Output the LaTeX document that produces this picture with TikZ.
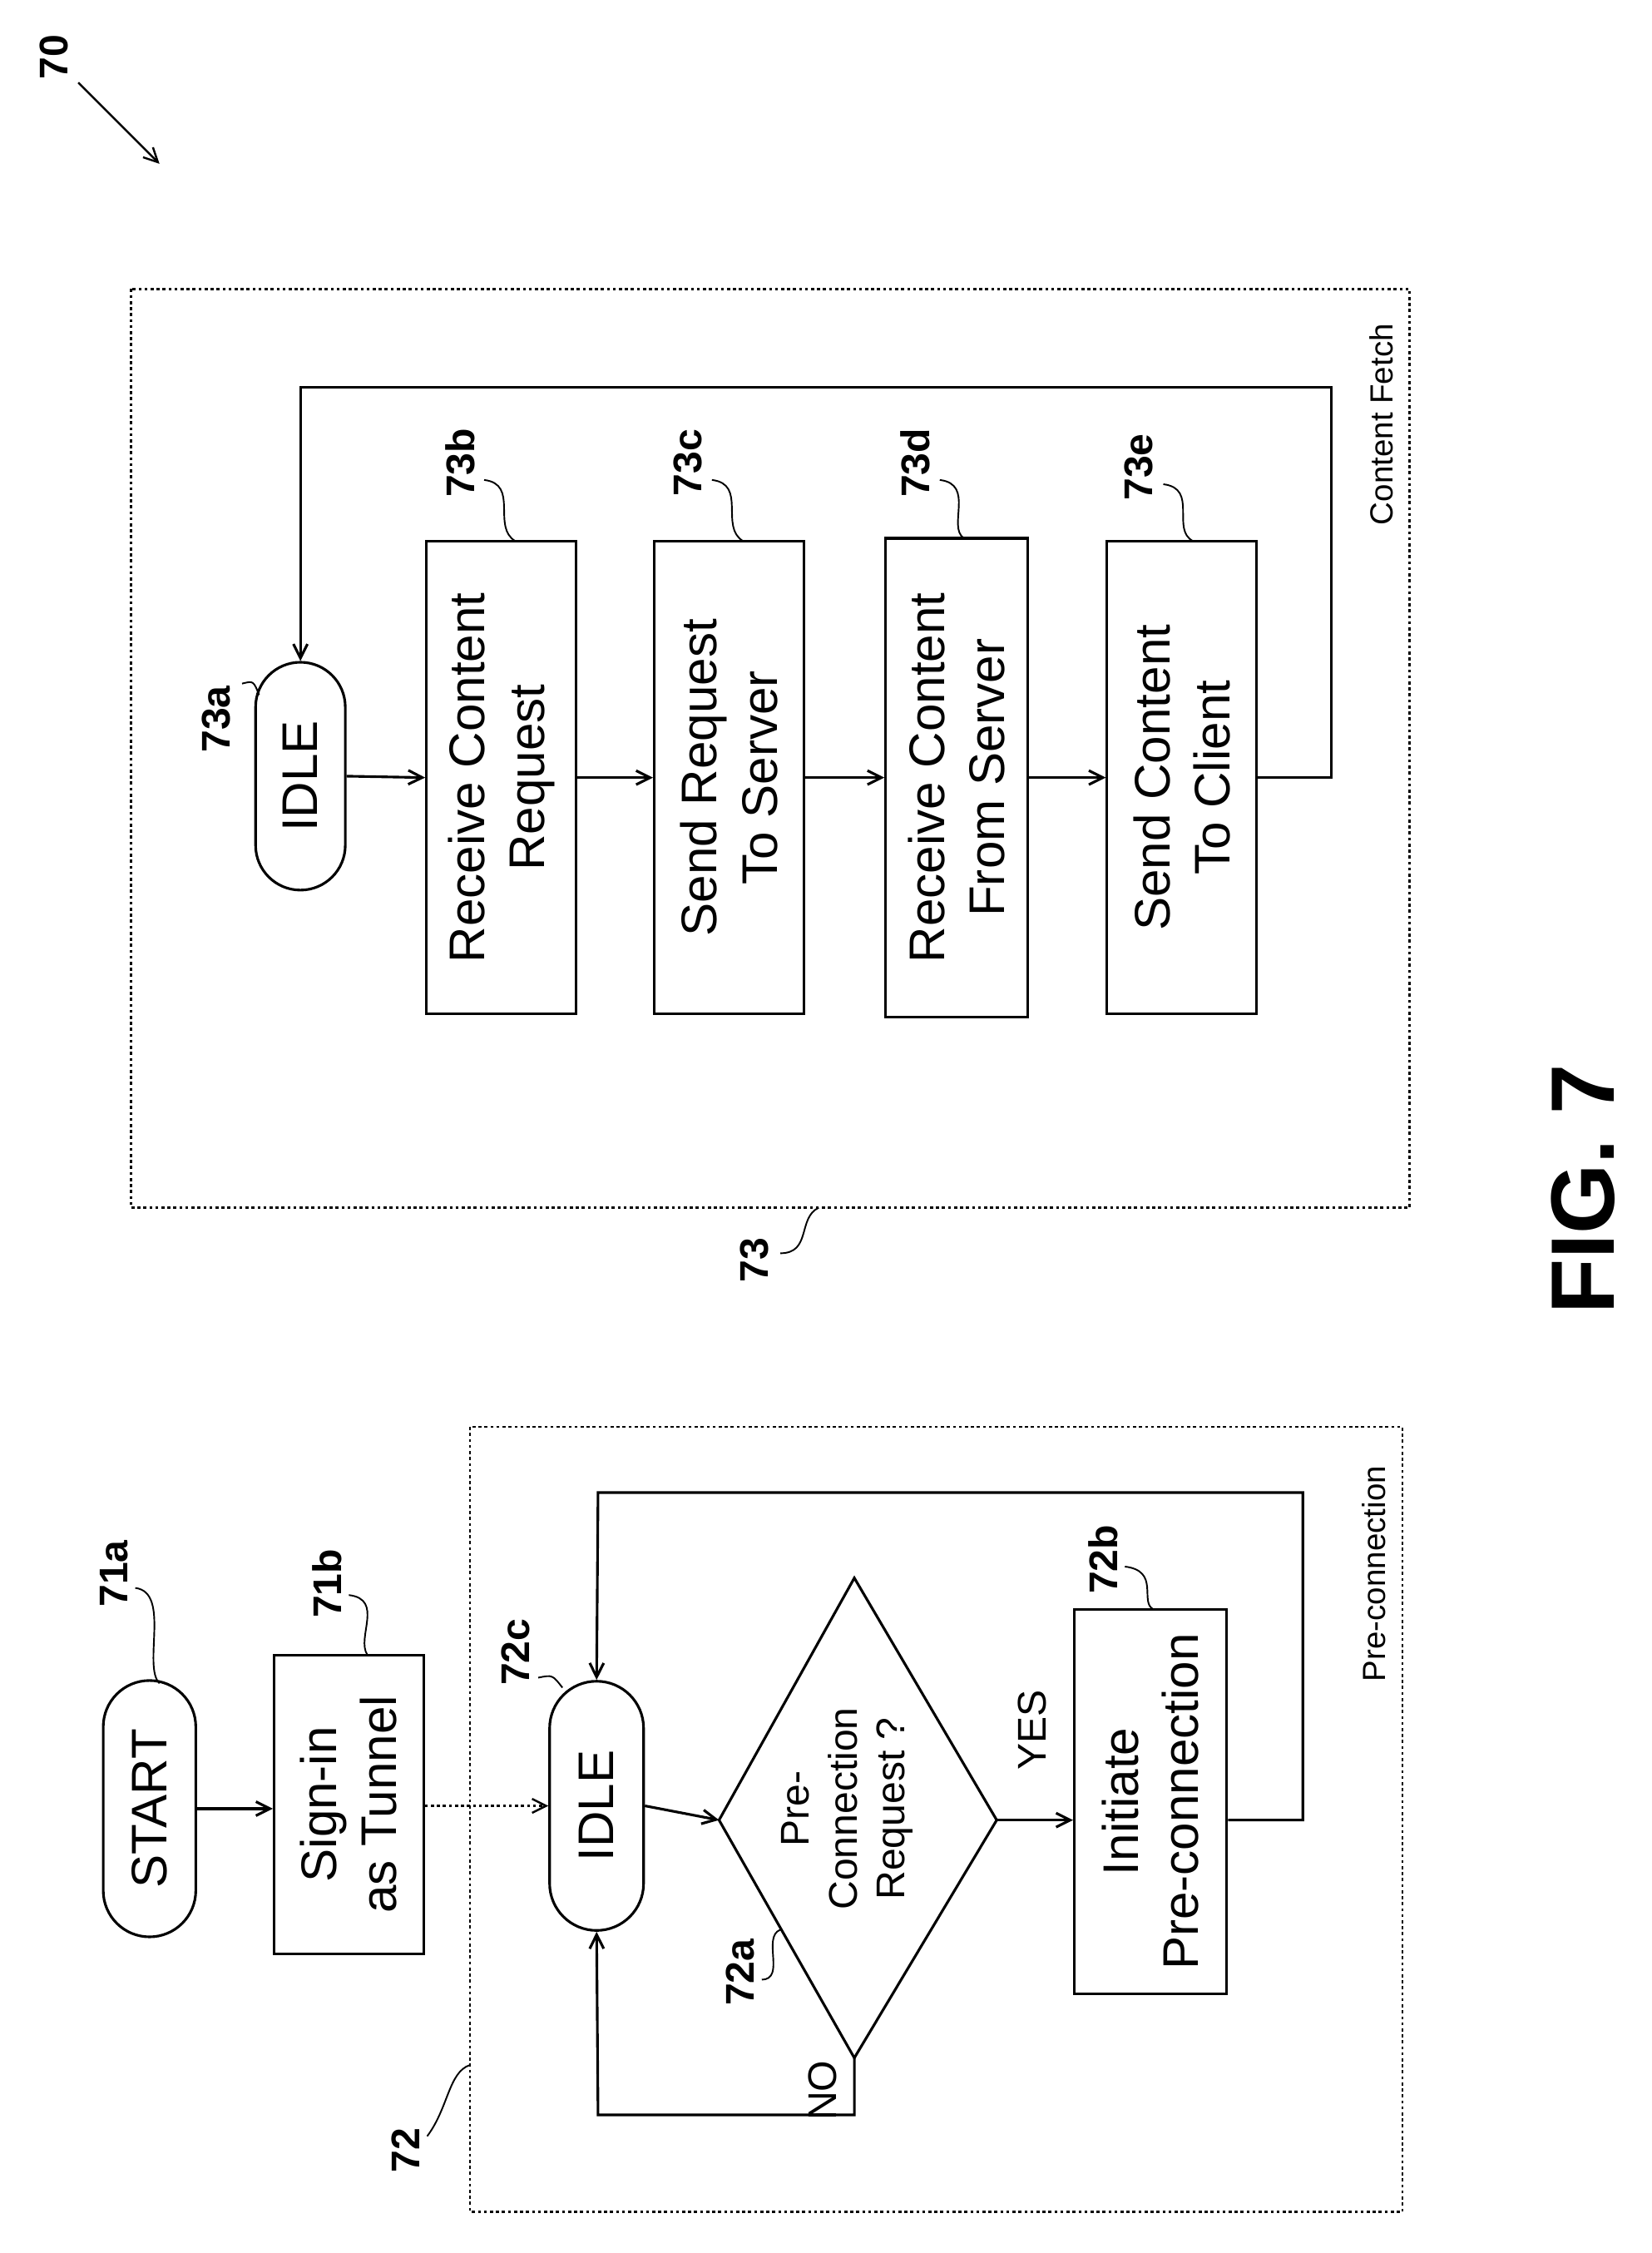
\documentclass[tikz,border=0pt]{standalone}
\usepackage{fontspec}
\setmainfont{Liberation Sans}
\usetikzlibrary{shapes.geometric,shapes.misc,arrows.meta}
\begin{document}
\begin{tikzpicture}[x=0.05cm,y=-0.05cm,
  line width=2.6pt,
  box/.style={draw,rectangle,rotate=90,inner sep=0,align=center,font=\fontsize{50}{60}\selectfont},
  term/.style={draw,rounded rectangle,rotate=90,inner sep=0,align=center,font=\fontsize{50}{60}\selectfont},
  lab/.style={rotate=90,font=\fontsize{40}{48}\selectfont\bfseries},
  txt/.style={rotate=90,font=\fontsize{40}{48}\selectfont},
  arr/.style={-{Straight Barb[length=14pt,width=14pt]}},
  grp/.style={draw,dashed,line width=2pt}]
\useasboundingbox (0,0) rectangle (1160,1582);
% groups
\draw[grp] (92,203) rectangle (990,848);
\draw[grp] (330,1002) rectangle (985,1553);
\node[txt,font=\fontsize{32}{38}\selectfont] (cf) at (970,298) {Content Fetch};
\node[txt,font=\fontsize{32}{38}\selectfont] (pc) at (965,1105) {Pre-connection};
% content fetch
\node[term,minimum width=160*0.05cm, minimum height=63*0.05cm] (i1) at (211,545) {IDLE};
\node[box,minimum width=332*0.05cm,minimum height=105*0.05cm] (b) at (352,546) {Receive Content\\Request};
\node[box,minimum width=332*0.05cm,minimum height=105*0.05cm] (c) at (512,546) {Send Request\\To Server};
\node[box,minimum width=336*0.05cm,minimum height=100*0.05cm] (d) at (672,546) {Receive Content\\From Server};
\node[box,minimum width=332*0.05cm,minimum height=105*0.05cm] (e) at (830,546) {Send Content\\To Client};
\draw[arr] (i1.south) -- (b.north);
\draw[arr] (b.south) -- (c.north);
\draw[arr] (c.south) -- (d.north);
\draw[arr] (d.south) -- (e.north);
\draw[arr] (e.south) -- (935,546) -- (935,272) -- (211,272) -- (i1.east);
% pre-connection
\node[term,minimum width=180*0.05cm,minimum height=65*0.05cm] (s) at (105,1270) {START};
\node[box,minimum width=210*0.05cm,minimum height=105*0.05cm] (si) at (245,1267) {Sign-in\\as Tunnel};
\node[term,minimum width=175*0.05cm,minimum height=66*0.05cm] (i2) at (419,1268) {IDLE};
\coordinate (dl) at (505,1278); \coordinate (dr) at (700,1278);
\coordinate (dt) at (600,1108); \coordinate (db) at (600,1445);
\draw (dl) -- (dt) -- (dr) -- (db) -- cycle;
\node[txt,align=center] (q) at (595,1270) {Pre-\\Connection\\Request ?};
\node[box,minimum width=270*0.05cm,minimum height=107*0.05cm] (ip) at (808,1265) {Initiate\\Pre-connection};
\draw[arr] (s.south) -- (si.north |- s.south);
\draw[arr,dashed,line width=2pt] (si.south |- i2.north) -- (i2.north);
\draw[arr] (i2.south) -- (dl);
\draw[arr] (dr) -- (ip.north |- dr);
\draw[arr] (ip.south |- dr) -- (915,1278) -- (915,1048) -- (420,1048) -- (i2.east);
\draw[arr] (db) -- (600,1485) -- (420,1485) -- (i2.west);
\node[txt] (yes) at (725,1215) {YES};
\node[txt] (no) at (578,1468) {NO};
% reference labels
\node[lab] (l70) at (38,40) {70};
\coordinate (a70) at (112,115);
\draw[arr,line width=2pt] (55,58) -- (a70);
\node[lab] (l73a) at (152,505) {73a};
\node[lab] (l73b) at (323,325) {73b};
\node[lab] (l73c) at (483,325) {73c};
\node[lab] (l73d) at (643,325) {73d};
\node[lab] (l73e) at (800,328) {73e};
\node[lab] (l73) at (530,885) {73};
\node[lab] (l71a) at (80,1105) {71a};
\node[lab] (l71b) at (230,1112) {71b};
\node[lab] (l72c) at (362,1160) {72c};
\node[lab] (l72b) at (775,1095) {72b};
\node[lab] (l72a) at (520,1385) {72a};
\node[lab] (l72) at (285,1510) {72};
\begin{scope}[line width=1.6pt]
\draw (170,480) .. controls (178,478) .. (182,488);
\draw (340,337) .. controls (365,340) and (345,370) .. (362,380);
\draw (500,337) .. controls (525,340) and (505,370) .. (522,380);
\draw (660,337) .. controls (685,340) and (665,370) .. (677,378);
\draw (817,340) .. controls (842,343) and (822,372) .. (838,380);
\draw (548,880) .. controls (570,880) and (560,855) .. (575,848);
\draw (95,1115) .. controls (120,1118) and (100,1170) .. (112,1182);
\draw (245,1120) .. controls (270,1123) and (250,1150) .. (258,1162);
\draw (378,1178) .. controls (388,1176) .. (395,1185);
\draw (790,1100) .. controls (815,1103) and (800,1125) .. (810,1130);
\draw (535,1390) .. controls (552,1390) and (535,1360) .. (548,1355);
\draw (300,1500) .. controls (315,1480) and (315,1455) .. (330,1450);
\end{scope}
\node[rotate=90,font=\fontsize{90}{100}\selectfont\bfseries] (fig) at (1112,835) {FIG. 7};
\end{tikzpicture}
\end{document}
